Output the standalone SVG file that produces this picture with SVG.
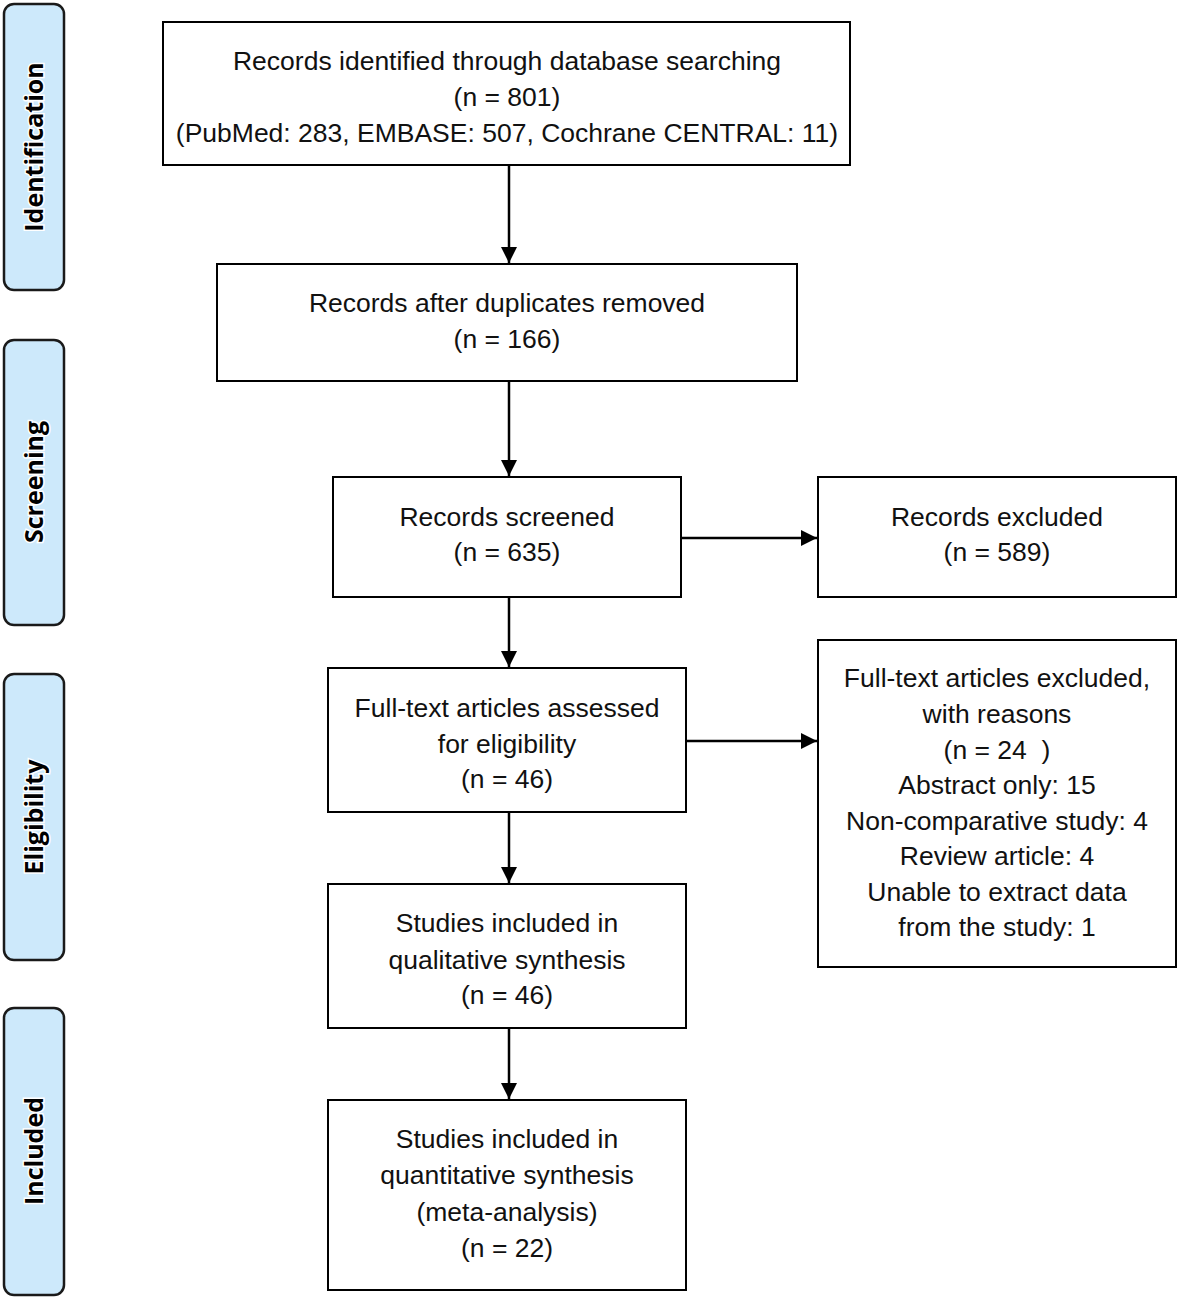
<svg xmlns="http://www.w3.org/2000/svg" width="1181" height="1299" viewBox="0 0 1181 1299">
<defs>
<marker id="ah" viewBox="0 0 10 10" refX="10" refY="5" markerWidth="6.5" markerHeight="6.5" orient="auto" markerUnits="strokeWidth">
<path d="M0,0 L10,5 L0,10 z" fill="#000"/>
</marker>
<style>
.box{fill:#fff;stroke:#000;stroke-width:2}
.side{fill:#cde9fb;stroke:#1a1a1a;stroke-width:2.5}
.t{font-family:"Liberation Sans",Arial,sans-serif;font-size:26.5px;fill:#111;text-anchor:middle;white-space:pre}
.s{font-family:"Open Sans","Liberation Sans",sans-serif;font-size:25px;font-weight:bold;fill:#000;text-anchor:middle;stroke:#fff;stroke-width:3;paint-order:stroke}
.c{stroke:#000;stroke-width:2.5;fill:none;marker-end:url(#ah)}
</style>
</defs>
<rect width="1181" height="1299" fill="#fff"/>
<g id="stage-identification"><rect class="side" x="4" y="4" width="60" height="286" rx="10"/><text class="s" transform="translate(34,147) rotate(-90)" dy="9">Identification</text></g>
<g id="stage-screening"><rect class="side" x="4" y="340" width="60" height="285" rx="10"/><text class="s" transform="translate(34,482) rotate(-90)" dy="9">Screening</text></g>
<g id="stage-eligibility"><rect class="side" x="4" y="674" width="60" height="286" rx="10"/><text class="s" transform="translate(34,817) rotate(-90)" dy="9">Eligibility</text></g>
<g id="stage-included"><rect class="side" x="4" y="1008" width="60" height="287" rx="10"/><text class="s" transform="translate(34,1151) rotate(-90)" dy="9">Included</text></g>

<g id="connectors">
<line class="c" x1="509" y1="165" x2="509" y2="263"/>
<line class="c" x1="509" y1="381" x2="509" y2="476"/>
<line class="c" x1="509" y1="597" x2="509" y2="667"/>
<line class="c" x1="509" y1="812" x2="509" y2="883"/>
<line class="c" x1="509" y1="1028" x2="509" y2="1099"/>
<line class="c" x1="681" y1="538" x2="817" y2="538"/>
<line class="c" x1="686" y1="741" x2="817" y2="741"/>
</g>

<g id="identified"><rect class="box" x="163" y="22" width="687" height="143"/>
<text class="t" x="507" y="70">Records identified through database searching</text>
<text class="t" x="507" y="106">(n = 801)</text>
<text class="t" x="507" y="142">(PubMed: 283, EMBASE: 507, Cochrane CENTRAL: 11)</text></g>

<g id="deduplicated"><rect class="box" x="217" y="264" width="580" height="117"/>
<text class="t" x="507" y="312">Records after duplicates removed</text>
<text class="t" x="507" y="348">(n = 166)</text></g>

<g id="screened"><rect class="box" x="333" y="477" width="348" height="120"/>
<text class="t" x="507" y="526">Records screened</text>
<text class="t" x="507" y="561">(n = 635)</text></g>

<g id="excluded"><rect class="box" x="818" y="477" width="358" height="120"/>
<text class="t" x="997" y="526">Records excluded</text>
<text class="t" x="997" y="561">(n = 589)</text></g>

<g id="fulltext"><rect class="box" x="328" y="668" width="358" height="144"/>
<text class="t" x="507" y="717">Full-text articles assessed</text>
<text class="t" x="507" y="753">for eligibility</text>
<text class="t" x="507" y="788">(n = 46)</text></g>

<g id="fulltext-excluded"><rect class="box" x="818" y="640" width="358" height="327"/>
<text class="t" x="997" y="687">Full-text articles excluded,</text>
<text class="t" x="997" y="723">with reasons</text>
<text class="t" x="997" y="759">(n = 24  )</text>
<text class="t" x="997" y="794">Abstract only: 15</text>
<text class="t" x="997" y="830">Non-comparative study: 4</text>
<text class="t" x="997" y="865">Review article: 4</text>
<text class="t" x="997" y="901">Unable to extract data</text>
<text class="t" x="997" y="936">from the study: 1</text></g>

<g id="qualitative"><rect class="box" x="328" y="884" width="358" height="144"/>
<text class="t" x="507" y="932">Studies included in</text>
<text class="t" x="507" y="969">qualitative synthesis</text>
<text class="t" x="507" y="1004">(n = 46)</text></g>

<g id="quantitative"><rect class="box" x="328" y="1100" width="358" height="190"/>
<text class="t" x="507" y="1148">Studies included in</text>
<text class="t" x="507" y="1184">quantitative synthesis</text>
<text class="t" x="507" y="1221">(meta-analysis)</text>
<text class="t" x="507" y="1257">(n = 22)</text></g>
</svg>
